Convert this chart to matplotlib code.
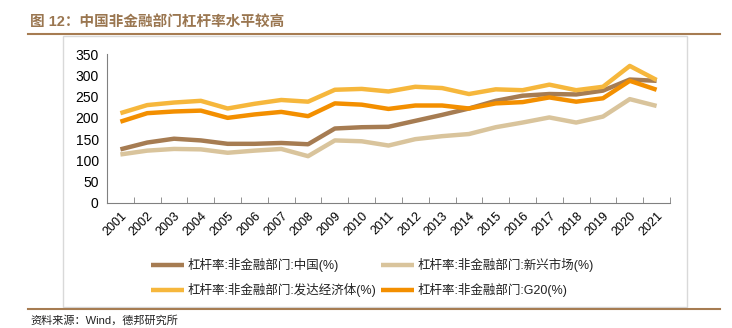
import matplotlib
matplotlib.use("Agg")
import matplotlib.pyplot as plt
from matplotlib.lines import Line2D
from matplotlib.patches import Rectangle

plt.rcParams['font.family'] = ['Liberation Sans', 'Noto Sans CJK SC', 'DejaVu Sans']

years = [str(y) for y in range(2001, 2022)]
china = [126, 142, 151, 147, 139, 139, 141, 138, 175, 178, 179, 193, 207, 222, 240, 252, 256, 255, 264, 290, 287]
emerging = [114, 123, 127, 126, 118, 123, 127, 110, 147, 145, 135, 150, 157, 162, 178, 189, 201, 189, 203, 244, 228]
advanced = [211, 230, 236, 240, 222, 233, 242, 238, 266, 268, 262, 273, 270, 256, 267, 265, 278, 265, 273, 322, 289]
g20 = [191, 211, 215, 217, 200, 208, 214, 204, 234, 231, 221, 229, 229, 222, 234, 237, 248, 238, 246, 287, 266]

series = [
    ("杠杆率:非金融部门:中国(%)", china, "#A67C52"),
    ("杠杆率:非金融部门:新兴市场(%)", emerging, "#D9C49C"),
    ("杠杆率:非金融部门:发达经济体(%)", advanced, "#F6B73C"),
    ("杠杆率:非金融部门:G20(%)", g20, "#F38F00"),
]

fig = plt.figure(figsize=(7.32, 3.28), dpi=100)
W, H = 732, 328

# frame box
fig.add_artist(Rectangle((63 / W, 1 - 307 / H), (687 - 63) / W, (307 - 36) / H,
                         transform=fig.transFigure, fill=False, edgecolor="#D9D9D9", lw=1))
# title and rules
fig.text(30 / W, 1 - 22 / H, "图 12：中国非金融部门杠杆率水平较高", fontsize=10.5, fontweight="bold",
         color="#9A7650", va="center", ha="left")
fig.add_artist(Line2D([28 / W, 720 / W], [1 - 34 / H, 1 - 34 / H], color="#A67C52", lw=1.5,
                      transform=fig.transFigure))
fig.add_artist(Line2D([28 / W, 720 / W], [1 - 309 / H, 1 - 309 / H], color="#A67C52", lw=1.5,
                      transform=fig.transFigure))
fig.text(30 / W, 1 - 320 / H, "资料来源：Wind，德邦研究所", fontsize=8, color="#222222",
         va="center", ha="left")

ax = fig.add_axes([107 / W, 1 - 203 / H, (670 - 107) / W, (203 - 54) / H])
x = list(range(len(years)))
lines = []
for name, vals, col in series:
    ln, = ax.plot(x, vals, color=col, lw=3.2, label=name, solid_capstyle="butt")
    lines.append(ln)

ax.set_ylim(0, 350)
ax.set_yticks(range(0, 351, 50))
ax.set_xlim(-0.5, len(years) - 0.5)
ax.set_xticks(x)
ax.set_xticklabels(years, rotation=45, ha="right", rotation_mode="anchor", fontsize=9)
ax.set_xticks([i - 0.5 for i in range(len(years) + 1)], minor=True)
ax.tick_params(axis="x", which="major", length=0, pad=5)
ax.tick_params(axis="x", which="minor", length=4, direction="in", color="#808080")
ax.tick_params(axis="y", length=0, labelsize=10, pad=6)
for s in ["top", "right"]:
    ax.spines[s].set_visible(False)
ax.spines["left"].set_color("#808080")
ax.spines["bottom"].set_color("#808080")

order = [0, 2, 1, 3]
leg = fig.legend([lines[i] for i in order], [series[i][0] for i in order],
                 loc="upper left", bbox_to_anchor=(140 / W, 1 - 247 / H), ncol=2, frameon=False,
                 fontsize=9, handlelength=2.6, columnspacing=0.4, handletextpad=0.3, labelspacing=0.85)
for t in leg.get_texts():
    t.set_color("#222222")

fig.savefig("out.png", dpi=100)
